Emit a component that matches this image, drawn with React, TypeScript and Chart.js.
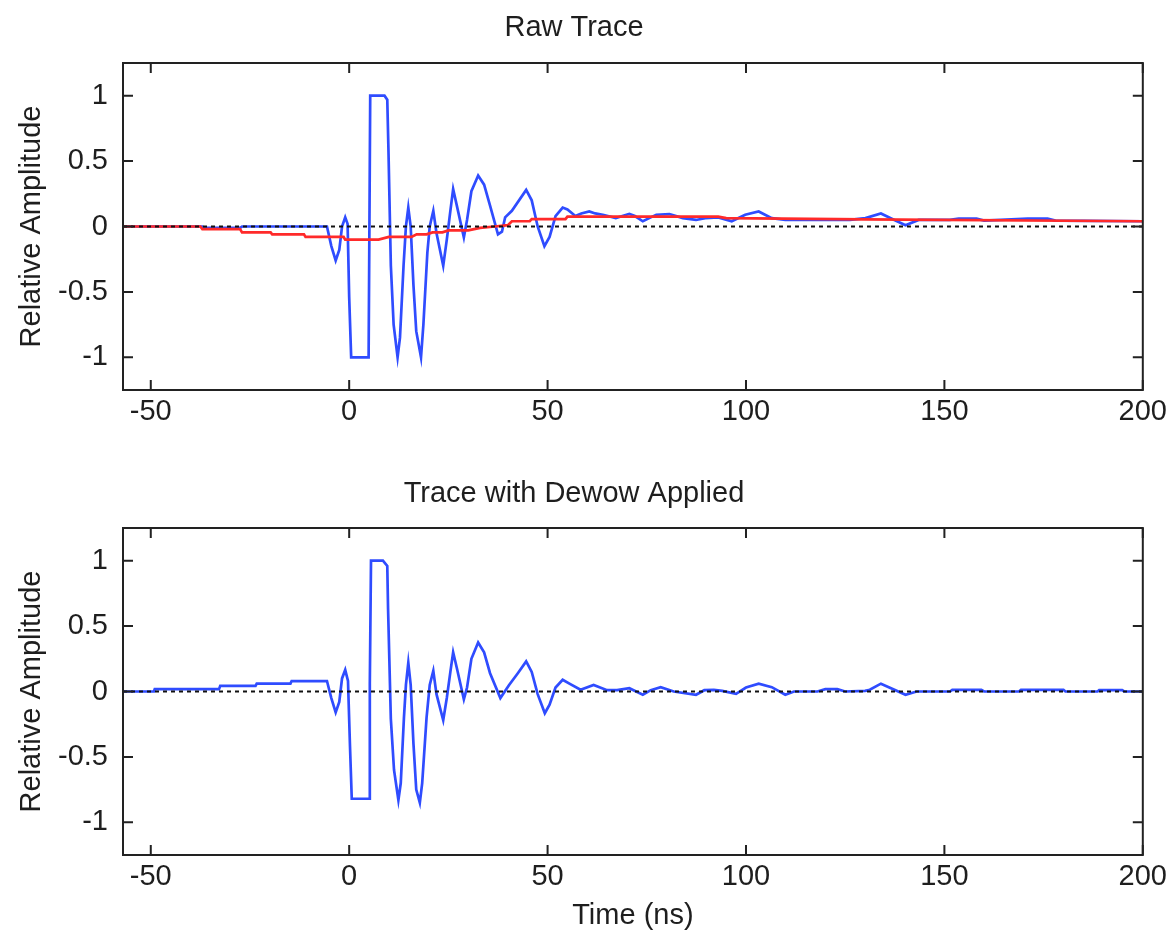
import React, { useEffect, useRef } from 'react';
import { Chart, registerables } from 'chart.js';

Chart.register(...registerables);

// ---- axis settings ----
const xTickValues = [-50, 0, 50, 100, 150, 200];
const yTickValues = [-1, -0.5, 0, 0.5, 1];
const xMin = -57;
const xMax = 200;
const yMin = -1.25;
const yMax = 1.25;

// ---- Raw trace (blue, top) ----
const rawTime = [
  -57, -37, -36.5, -27.5, -27, -6, -5.6, -4.5, -3.4, -2.5, -1.8, -1.0, -0.4, 0.0, 0.5, 4.9, 5.3, 8.9, 9.6, 9.9,
  10.5, 11.2, 12.2, 12.8, 13.7, 14.3, 14.9, 15.5, 16.2, 16.9, 18.1, 18.7, 19.7, 20.3, 21.2, 22.0, 23.7, 24.6, 25.5, 26.2,
  27.2, 28.9, 29.7, 30.8, 32.5, 34.0, 35.5, 37.5, 38.5, 39.3, 41, 44.6, 46, 47.5, 49.2, 50.5, 52, 53.8, 55, 57,
  58.5, 60.5, 62, 63.9, 67.2, 70.6, 72, 74.0, 76, 77.4, 80.7, 84.1, 87.4, 89.7, 93, 96.4, 99.8, 103.2, 106.5, 109.9,
  112.1, 126.2, 130.1, 134.0, 137.4, 140.2, 143.5, 151.4, 153.6, 158.1, 160, 171, 176, 178, 200,
];
const rawAmp = [
  0, 0, -0.01, -0.01, 0, 0, 0, -0.15, -0.26, -0.18, 0.0, 0.07, 0.02, -0.54, -1.0, -1.0, 1.0, 1.0, 0.97, 0.58,
  -0.3, -0.75, -1.0, -0.85, -0.3, 0.0, 0.145, 0.0, -0.45, -0.8, -1.0, -0.75, -0.2, 0.0, 0.12, -0.05, -0.3, -0.1, 0.12, 0.286,
  0.15, -0.084, 0.05, 0.27, 0.39, 0.32, 0.16, -0.06, -0.04, 0.07, 0.12, 0.28, 0.2, 0.0, -0.15, -0.08, 0.08, 0.145, 0.13, 0.08,
  0.1, 0.115, 0.1, 0.09, 0.065, 0.097, 0.08, 0.04, 0.07, 0.09, 0.095, 0.064, 0.05, 0.064, 0.07, 0.04, 0.09, 0.115, 0.064, 0.05,
  0.05, 0.05, 0.064, 0.1, 0.05, 0.01, 0.05, 0.05, 0.06, 0.06, 0.045, 0.06, 0.06, 0.045, 0.04,
];

// ---- Wow / low-frequency trend (red, top) ----
const trendTime = [
  -57, -37.5, -37, -27.5, -27, -19.8, -19.4, -11.4, -11, -1.4, -1, 7.4, 10, 15.7, 17, 19.5, 21, 23.5, 25, 30,
  33, 36.7, 40, 41, 45.5, 46, 54.5, 55, 93, 95, 130, 200,
];
const trendAmp = [
  0, 0, -0.02, -0.02, -0.045, -0.045, -0.06, -0.06, -0.08, -0.08, -0.1, -0.1, -0.08, -0.08, -0.06, -0.06, -0.045, -0.045, -0.03, -0.03,
  -0.01, 0, 0.01, 0.04, 0.04, 0.056, 0.056, 0.076, 0.076, 0.064, 0.055, 0.04,
];

// ---- Dewowed trace (blue, bottom) ----
const dewowTime = [
  -57, -49.2, -49, -32.8, -32.5, -23.6, -23.3, -14.8, -14.5, -5.6, -4.5, -3.4, -2.5, -1.8, -1.0, -0.3, 0.2, 0.65, 5.0, 5.2,
  5.5, 8.5, 9.6, 9.8, 10.5, 11.3, 12.4, 13, 13.8, 14.3, 14.9, 15.5, 16.2, 16.9, 17.8, 18.4, 19.5, 20.3, 21.2, 22.0,
  23.7, 24.6, 25.5, 26.2, 27.2, 28.9, 29.7, 30.8, 32.5, 34, 35.5, 38.1, 40.3, 42.5, 44.6, 46, 47.5, 49.3, 50.5, 52,
  53.8, 55.5, 58.3, 61.6, 65, 67.5, 70.6, 74, 76, 78.5, 81.8, 87.4, 89.5, 91.9, 94, 97.5, 100, 103.2, 106.5, 109.9,
  112.1, 118, 120, 123, 125, 130, 131.2, 134, 137.4, 140.2, 143, 151.4, 152, 159.3, 160, 168.8, 169.3, 180, 180.5, 188.6,
  189, 194.8, 195.3, 200,
];
const dewowAmp = [
  0, 0, 0.018, 0.018, 0.043, 0.043, 0.06, 0.06, 0.08, 0.08, -0.05, -0.16, -0.08, 0.1, 0.165, 0.08, -0.415, -0.82, -0.82, 0.06,
  1.0, 1.0, 0.96, 0.63, -0.21, -0.6, -0.83, -0.7, -0.2, 0.05, 0.22, 0.05, -0.4, -0.75, -0.85, -0.7, -0.2, 0.05, 0.158, -0.02,
  -0.22, -0.05, 0.15, 0.3, 0.17, -0.06, 0.03, 0.25, 0.375, 0.3, 0.14, -0.05, 0.05, 0.14, 0.23, 0.15, -0.02, -0.166, -0.1, 0.03,
  0.09, 0.06, 0.013, 0.05, 0.01, 0.01, 0.025, -0.025, 0.01, 0.033, 0, -0.025, 0.01, 0.013, 0.005, -0.018, 0.03, 0.06, 0.033, -0.025,
  0, 0, 0.018, 0.018, 0, 0.005, 0.013, 0.06, 0.013, -0.025, 0, 0, 0.013, 0.013, 0, 0, 0.013, 0.013, 0, 0,
  0.01, 0.01, 0, 0,
];

// ---- zero reference line ----
const zeroTime = [-57, 200];
const zeroAmp = [0, 0];

const FONT = '"Liberation Sans", Arial, Helvetica, sans-serif';
const TEXT = '#1e1e1e';
const BLUE = '#2f4cff';
const RED = '#ff2a2a';

const toPts = (xs: number[], ys: number[]) => xs.map((x, i) => ({ x, y: ys[i] }));

const framePlugin = {
  id: 'matlabFrame',
  afterDatasetsDraw(chart: any) {
    const { ctx, chartArea } = chart;
    const { left, right, top, bottom } = chartArea;
    const xs = chart.scales.x;
    const ys = chart.scales.y;
    ctx.save();
    ctx.strokeStyle = '#222';
    ctx.lineWidth = 2;
    ctx.strokeRect(left, top, right - left, bottom - top);
    const tl = 10;
    ctx.beginPath();
    for (const v of xTickValues) {
      const px = xs.getPixelForValue(v);
      ctx.moveTo(px, bottom);
      ctx.lineTo(px, bottom - tl);
      ctx.moveTo(px, top);
      ctx.lineTo(px, top + tl);
    }
    for (const v of yTickValues) {
      const py = ys.getPixelForValue(v);
      ctx.moveTo(left, py);
      ctx.lineTo(left + tl, py);
      ctx.moveTo(right, py);
      ctx.lineTo(right - tl, py);
    }
    ctx.stroke();
    ctx.restore();
  },
};

function makeConfig(opts: {
  title: string;
  titlePad: { top: number; bottom: number };
  datasets: any[];
  xTitle?: string;
  canvasH: number;
  plotBottom: number;
}) {
  return {
    type: 'line' as const,
    data: { datasets: opts.datasets },
    plugins: [framePlugin],
    options: {
      responsive: false,
      maintainAspectRatio: false,
      animation: false as const,
      layout: { padding: { left: 0, right: 24, top: 0, bottom: 0 } },
      plugins: {
        legend: { display: false },
        tooltip: { enabled: false },
        title: {
          display: true,
          text: opts.title,
          color: TEXT,
          font: { family: FONT, size: 29, weight: 'normal' as const, lineHeight: 1.2 },
          padding: opts.titlePad,
        },
      },
      scales: {
        x: {
          type: 'linear' as const,
          min: xMin,
          max: xMax,
          afterBuildTicks: (s: any) => {
            s.ticks = xTickValues.map((v) => ({ value: v }));
          },
          afterFit: (s: any) => {
            s.height = opts.canvasH - opts.plotBottom;
          },
          grid: { display: false, drawTicks: false },
          border: { display: false },
          ticks: {
            color: TEXT,
            font: { family: FONT, size: 29, lineHeight: 1.2 },
            padding: 5,
            maxRotation: 0,
            autoSkip: false,
            callback: (v: any) => String(v),
          },
          title: {
            display: !!opts.xTitle,
            text: opts.xTitle || '',
            color: TEXT,
            font: { family: FONT, size: 29, lineHeight: 1.2 },
            padding: { top: 0, bottom: 5 },
          },
        },
        y: {
          type: 'linear' as const,
          min: yMin,
          max: yMax,
          afterBuildTicks: (s: any) => {
            s.ticks = yTickValues.map((v) => ({ value: v }));
          },
          afterFit: (s: any) => {
            s.width = 123;
          },
          grid: { display: false, drawTicks: false },
          border: { display: false },
          ticks: {
            color: TEXT,
            font: { family: FONT, size: 29, lineHeight: 1.2 },
            padding: 15,
            autoSkip: false,
            callback: (v: any) => String(v),
          },
          title: {
            display: true,
            text: 'Relative Amplitude',
            color: TEXT,
            font: { family: FONT, size: 29, lineHeight: 1.2 },
            padding: { top: 15, bottom: 0 },
          },
        },
      },
      elements: { point: { radius: 0 }, line: { tension: 0 } },
    },
  };
}

export default function App() {
  const topRef = useRef<HTMLCanvasElement>(null);
  const botRef = useRef<HTMLCanvasElement>(null);

  useEffect(() => {
    document.body.style.margin = '0';
    const zeroDs = {
      data: toPts(zeroTime, zeroAmp),
      borderColor: '#111',
      borderWidth: 2,
      borderDash: [4, 4],
      pointRadius: 0,
      order: 0,
    };
    const topChart = new Chart(
      topRef.current!,
      makeConfig({
        title: 'Raw Trace',
        titlePad: { top: 10.6, bottom: 17.6 },
        canvasH: 460,
        plotBottom: 390,
        datasets: [
          { ...zeroDs },
          { data: toPts(trendTime, trendAmp), borderColor: RED, borderWidth: 2.7, pointRadius: 0, order: 1 },
          { data: toPts(rawTime, rawAmp), borderColor: BLUE, borderWidth: 2.7, pointRadius: 0, order: 2 },
        ],
      }) as any
    );
    const botChart = new Chart(
      botRef.current!,
      makeConfig({
        title: 'Trace with Dewow Applied',
        titlePad: { top: 16.6, bottom: 16.6 },
        canvasH: 478,
        plotBottom: 395,
        xTitle: 'Time (ns)',
        datasets: [
          { ...zeroDs },
          { data: toPts(dewowTime, dewowAmp), borderColor: BLUE, borderWidth: 2.7, pointRadius: 0, order: 2 },
        ],
      }) as any
    );
    return () => {
      topChart.destroy();
      botChart.destroy();
    };
  }, []);

  return (
    <div style={{ position: 'absolute', left: 0, top: 0, width: 1172, height: 938, background: '#fff' }}>
      <canvas ref={topRef} width={1172} height={460} style={{ display: 'block' }} />
      <canvas ref={botRef} width={1172} height={478} style={{ display: 'block' }} />
    </div>
  );
}
